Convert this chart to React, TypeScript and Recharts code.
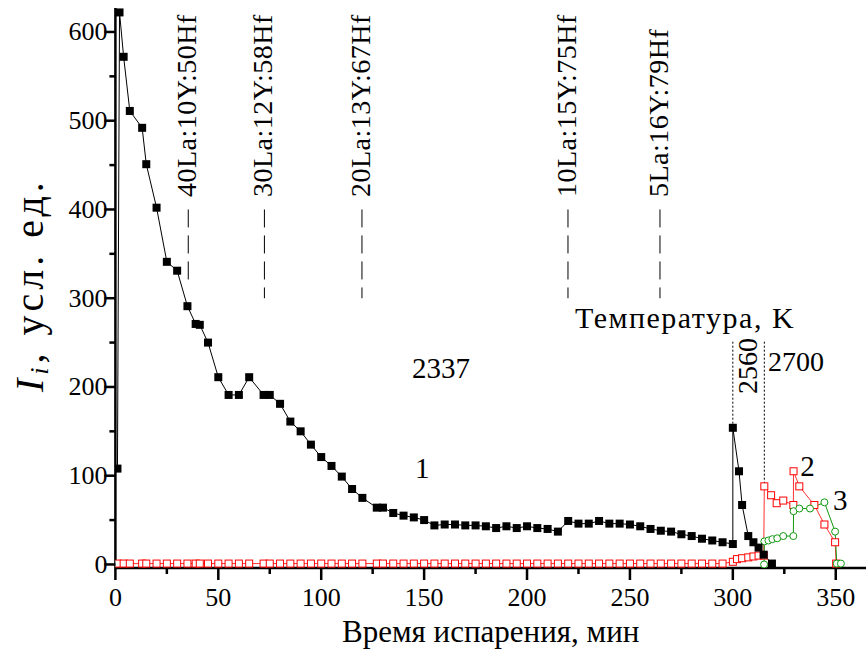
import React from "react";
import { LineChart, Line, XAxis, YAxis, ReferenceLine, ReferenceDot, Label } from "recharts";

// серия 1 (чёрные квадраты)
const time1 = [1, 2, 4, 7, 13, 15, 20, 25, 30, 35, 39, 41, 45, 50, 55, 60, 65, 72, 75, 80, 85, 90, 95, 100, 105, 110, 115, 120, 127, 130, 135, 140, 145, 150, 155, 160, 165, 170, 175, 180, 185, 190, 195, 200, 205, 210, 215, 220, 225, 230, 235, 240, 245, 250, 255, 260, 265, 270, 275, 280, 285, 290, 295, 300, 300, 303, 304.5, 307.5, 310, 312.5, 315, 319];
const value1 = [108, 622, 572, 511, 492, 451, 402, 341, 331, 291, 271, 270, 250, 211, 191, 191, 211, 191, 191, 181, 161, 150, 135, 121, 111, 99, 85, 75, 64, 64, 58, 55, 53, 50, 44, 45, 45, 44, 44, 43, 41, 43, 41, 43, 41, 40, 37, 49, 46, 46, 49, 46, 46, 45, 43, 40, 38, 37, 34, 32, 29, 27, 25, 23, 154, 105, 67, 32, 25, 19, 11, 1];

// серия 2 (красные квадраты)
const time2 = [1, 4, 7, 13, 15, 20, 25, 30, 35, 39, 41, 45, 50, 55, 60, 65, 72, 75, 80, 85, 90, 95, 100, 105, 110, 115, 120, 127, 130, 135, 140, 145, 150, 155, 160, 165, 170, 175, 180, 185, 190, 195, 200, 205, 210, 215, 220, 225, 230, 235, 240, 245, 250, 255, 260, 265, 270, 275, 280, 285, 290, 295, 300, 302, 304.5, 307.5, 310, 312.5, 315, 315.3, 318.6, 321.3, 324.5, 329.4, 329.5, 332.3, 339.6, 344.5, 349.7, 350.2];
const value2 = [1, 1, 1, 1, 1, 1, 1, 1, 1, 1, 1, 1, 1, 1, 1, 1, 1, 1, 1, 1, 1, 1, 1, 1, 1, 1, 1, 1, 1, 1, 1, 1, 1, 1, 1, 1, 1, 1, 1, 1, 1, 1, 1, 1, 1, 1, 1, 1, 1, 1, 1, 1, 1, 1, 1, 1, 1, 1, 1, 1, 1, 1, 3, 6, 7, 8, 9, 10, 10, 88, 78, 69, 72, 67, 105, 88, 67, 45, 25, 1];

// серия 3 (зелёные кружки)
const time3 = [315.2, 315.3, 317.3, 319.2, 321.6, 324.5, 329.4, 329.5, 332.3, 337.5, 344.5, 349.7, 350.5, 352.5];
const value3 = [0, 26, 27, 28.5, 29.5, 32, 32, 60, 63, 63, 70, 37, 1, 1];

// составы
const compositions = ["40La:10Y:50Hf", "30La:12Y:58Hf", "20La:13Y:67Hf", "10La:15Y:75Hf", "5La:16Y:79Hf"];
const compositionTimes = [35.4, 72.4, 119.8, 219.9, 264.6];
const compositionBottoms = [320, 300, 300, 300, 300];

// температуры
const tempTimes = [300, 315.3];
const tempTops = [154, 88];

const xTicks = [0, 25, 50, 75, 100, 125, 150, 175, 200, 225, 250, 275, 300, 325, 350];
const yTicks = [0, 50, 100, 150, 200, 250, 300, 350, 400, 450, 500, 550, 600];

const FONT = "Liberation Serif";

const s1 = time1.map((t, i) => ({ x: t, y: value1[i] }));
const s2 = time2.map((t, i) => ({ x: t, y: value2[i] }));
const s3 = time3.map((t, i) => ({ x: t, y: value3[i] }));

const XTick = (p: any) => {
    const { x, y, payload } = p;
    const v = payload.value;
    const major = v % 50 === 0;
    return (
        <g>
            <line x1={x} x2={x} y1={y} y2={y + (major ? 12 : 6)} stroke="#000" strokeWidth={2.5} />
            {major && (
                <text x={x} y={y + 38} textAnchor="middle" fontSize={26} fontFamily={FONT} fill="#000">
                    {v}
                </text>
            )}
        </g>
    );
};

const YTick = (p: any) => {
    const { x, y, payload } = p;
    const v = payload.value;
    const major = v % 100 === 0;
    return (
        <g>
            <line x1={x - (major ? 11 : 6)} x2={x} y1={y} y2={y} stroke="#000" strokeWidth={2.5} />
            {major && (
                <text x={x - 8} y={y + 8.5} textAnchor="end" fontSize={26} fontFamily={FONT} fill="#000">
                    {v}
                </text>
            )}
        </g>
    );
};

const blackDot = (p: any) => (
    <rect key={"b" + p.index} x={p.cx - 4} y={p.cy - 4} width={8} height={8} fill="#000" />
);
const redDot = (p: any) => (
    <rect key={"r" + p.index} x={p.cx - 3.5} y={p.cy - 3.5} width={7} height={7} fill="#fff" stroke="#ff0000" strokeWidth={1} />
);
const greenDot = (p: any) => (
    <circle key={"g" + p.index} cx={p.cx} cy={p.cy} r={3.5} fill="#fff" stroke="#119911" strokeWidth={1} />
);

const textAt = (value: string, size: number, anchor: string = "start", rotate = false, spacing?: number) => (props: any) => {
    const vb = props.viewBox;
    const cx = vb.x + vb.width / 2;
    const cy = vb.y + vb.height / 2;
    return (
        <text
            x={cx}
            y={cy}
            textAnchor={anchor}
            dominantBaseline="central"
            fontSize={size}
            letterSpacing={spacing}
            fontFamily={FONT}
            fill="#000"
            transform={rotate ? `rotate(-90, ${cx}, ${cy})` : undefined}
        >
            {value}
        </text>
    );
};

const XTitle = (props: any) => {
    const vb = props.viewBox;
    return (
        <text x={vb.x + vb.width / 2} y={vb.y + 74} textAnchor="middle" fontSize={31} fontFamily={FONT} fill="#000">
            Время испарения, мин
        </text>
    );
};

const YTitle = () => {
    const cx = 29;
    const cy = 392;
    return (
        <text x={cx} y={cy} textAnchor="start" dominantBaseline="central" fontSize={40} letterSpacing={4} fontFamily={FONT} fill="#000" transform={`rotate(-90, ${cx}, ${cy})`}>
            <tspan fontStyle="italic">I</tspan>
            <tspan fontSize={26} fontStyle="italic" dy={10}>i</tspan>
            <tspan dy={-10}>, усл. ед.</tspan>
        </text>
    );
};

const App = () => {
    return (
        <div style={{ position: "absolute", left: 0, top: 0, fontFamily: "Liberation Serif" }}>
            <LineChart width={866} height={653} margin={{ top: 8, right: 0, bottom: 25, left: 55.4 }}>
                <XAxis
                    type="number"
                    dataKey="x"
                    domain={[0, 364.7]}
                    ticks={xTicks}
                    tick={<XTick />}
                    tickLine={false}
                    tickSize={0}
                    tickMargin={0}
                    height={60}
                    axisLine={{ stroke: "#000", strokeWidth: 2.5 }}
                    allowDataOverflow
                >
                    <Label content={<XTitle />} />
                </XAxis>
                <YAxis
                    type="number"
                    dataKey="y"
                    domain={[-4, 627]}
                    ticks={yTicks}
                    tick={<YTick />}
                    tickLine={false}
                    tickSize={0}
                    tickMargin={0}
                    width={60}
                    axisLine={{ stroke: "#000", strokeWidth: 2.5 }}
                    allowDataOverflow
                >
                    <Label content={<YTitle />} />
                </YAxis>

                {compositions.map((c, i) => (
                    <ReferenceLine
                        key={"cl" + i}
                        segment={[{ x: compositionTimes[i], y: 400 }, { x: compositionTimes[i], y: compositionBottoms[i] }]}
                        stroke="#000"
                        strokeWidth={1}
                        strokeDasharray="18 8"
                    />
                ))}
                {compositions.map((c, i) => (
                    <ReferenceDot key={"ct" + i} x={compositionTimes[i] - 0.7} y={414} r={0} fill="none" stroke="none" label={textAt(c, 28, "start", true, 0.5)} />
                ))}

                {tempTimes.map((t, i) => (
                    <ReferenceLine
                        key={"tl" + i}
                        segment={[{ x: t, y: 251 }, { x: t, y: tempTops[i] }]}
                        stroke="#000"
                        strokeWidth={1}
                        strokeDasharray="2 2"
                    />
                ))}
                <ReferenceDot x={223.3} y={277.8} r={0} fill="none" stroke="none" label={textAt("Температура, K", 30, "start", false, 1.5)} />
                <ReferenceDot x={144.1} y={221.4} r={0} fill="none" stroke="none" label={textAt("2337", 29)} />
                <ReferenceDot x={307.3} y={223.7} r={0} fill="none" stroke="none" label={textAt("2560", 28, "middle", true)} />
                <ReferenceDot x={317.1} y={228.2} r={0} fill="none" stroke="none" label={textAt("2700", 28)} />
                <ReferenceDot x={145.6} y={108.7} r={0} fill="none" stroke="none" label={textAt("1", 29)} />
                <ReferenceDot x={332.7} y={111} r={0} fill="none" stroke="none" label={textAt("2", 29)} />
                <ReferenceDot x={348.7} y={72.6} r={0} fill="none" stroke="none" label={textAt("3", 29)} />

                <Line data={s2} dataKey="y" type="linear" stroke="#ff3333" strokeWidth={1} dot={redDot} activeDot={false} isAnimationActive={false} />
                <Line data={s3} dataKey="y" type="linear" stroke="#119911" strokeWidth={1} dot={greenDot} activeDot={false} isAnimationActive={false} />
                <Line data={s1} dataKey="y" type="linear" stroke="#000" strokeWidth={1} dot={blackDot} activeDot={false} isAnimationActive={false} />
            </LineChart>
        </div>
    );
};

export default App;
